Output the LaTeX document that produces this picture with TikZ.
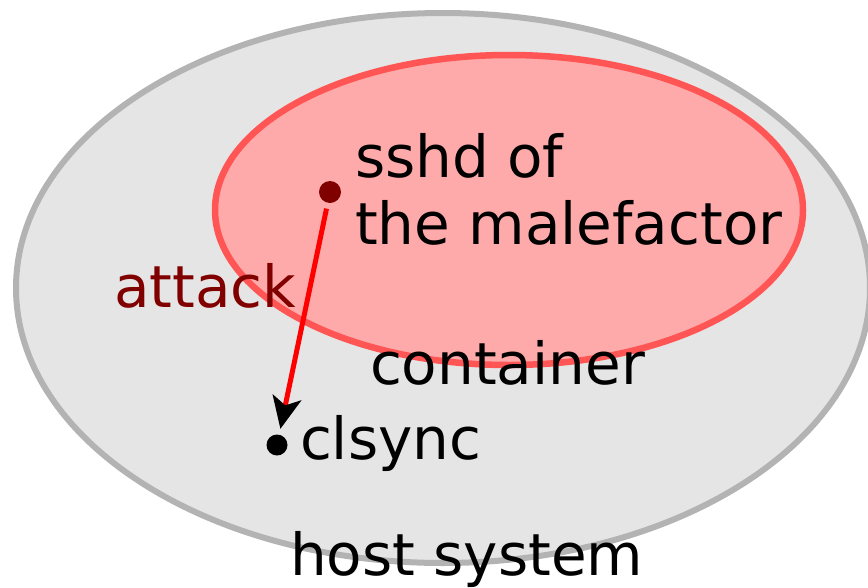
\documentclass[tikz,border=0pt]{standalone}
\usepackage{fontspec}
\setmainfont{DejaVu Sans}
\usetikzlibrary{shapes.geometric,arrows.meta,positioning}

\definecolor{hostfill}{HTML}{E5E5E5}
\definecolor{hostline}{HTML}{B3B3B3}
\definecolor{contfill}{HTML}{FFAAAA}
\definecolor{contline}{HTML}{FF5555}
\definecolor{attackred}{HTML}{800000}

\begin{document}
\begin{tikzpicture}[x=1pt,y=-1pt,
    big text/.style={font=\fontsize{58}{67}\selectfont,inner sep=0pt,outer sep=0pt,anchor=base west},
    area/.style={ellipse,inner sep=0pt,outer sep=0pt},
    dot/.style={circle,inner sep=0pt,outer sep=0pt}]
    \useasboundingbox (0,0) rectangle (868,587);

    \node[area,fill=hostfill,draw=hostline,line width=6pt,minimum width=854pt,minimum height=550pt] (Host) at (443,288) {};
    \node[area,fill=contfill,draw=contline,line width=6.5pt,minimum width=588pt,minimum height=310pt] (Container) at (509,210) {};

    \node[dot,fill=attackred,minimum size=22pt] (Sshd) at (330,192) {};
    \node[dot,fill=black,minimum size=21pt] (Clsync) at (277,445) {};

    \node[big text,align=left] (SshdText) at (355,244) {sshd of\\the malefactor};
    \node[big text,text=attackred] (AttackText) at (114,307) {attack};
    \node[big text] (ContainerText) at (370,384) {container};
    \node[big text] (ClsyncText) at (300,459) {clsync};
    \node[big text] (HostText) at (290,575) {host system};

    \draw [-{Stealth[length=32pt,width=29pt,inset=8pt,black]},red,line width=5pt,shorten <=6pt,shorten >=6pt] (Sshd) -- (Clsync);
\end{tikzpicture}
\end{document}
